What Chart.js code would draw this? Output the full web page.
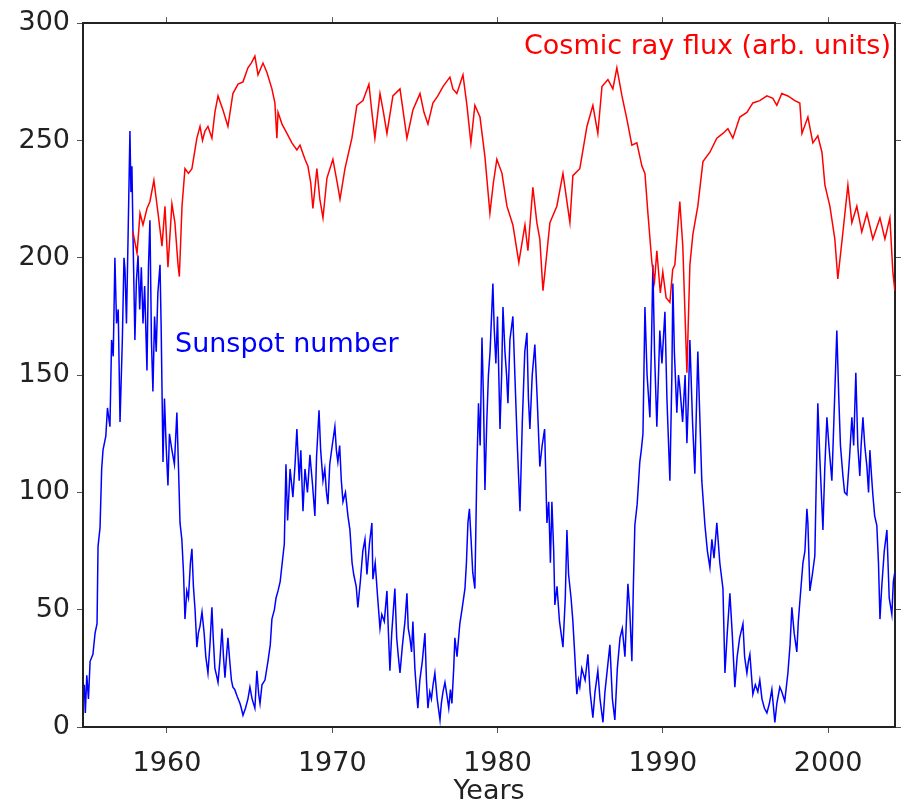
<!DOCTYPE html>
<html>
<head>
<meta charset="utf-8">
<script src="https://cdn.jsdelivr.net/npm/chart.js@4.4.0/dist/chart.umd.min.js"></script>
<style>
  html, body { margin: 0; padding: 0; background: #fff; overflow: hidden; }
  canvas { display: block; }
</style>
</head>
<body>
<canvas id="solarChart" width="903" height="805"></canvas>
<script>
// tick values
const xTickYears = [1960, 1970, 1980, 1990, 2000];
const yTickValues = [0, 50, 100, 150, 200, 250, 300];

// sunspot number
const sunspotYears = [
  1955.00,1955.06,1955.15,1955.25,1955.35,1955.52,1955.65,1955.77,1955.83,1955.95,
  1956.05,1956.13,1956.30,1956.40,1956.55,1956.65,1956.75,1956.85,1956.95,1957.05,
  1957.16,1957.30,1957.40,1957.46,1957.55,1957.65,1957.76,1957.82,1957.88,1957.95,
  1958.06,1958.15,1958.25,1958.35,1958.45,1958.55,1958.65,1958.79,1958.88,1958.97,
  1959.06,1959.15,1959.25,1959.35,1959.45,1959.58,1959.65,1959.76,1959.85,1959.95,
  1960.06,1960.15,1960.30,1960.45,1960.60,1960.70,1960.79,1960.90,1961.00,1961.09,
  1961.20,1961.30,1961.42,1961.51,1961.60,1961.70,1961.81,1961.90,1962.00,1962.12,
  1962.25,1962.35,1962.48,1962.60,1962.72,1962.80,1962.90,1963.00,1963.09,1963.20,
  1963.33,1963.42,1963.51,1963.60,1963.69,1963.80,1963.90,1963.99,1964.10,1964.25,
  1964.42,1964.50,1964.60,1964.75,1964.90,1965.02,1965.15,1965.32,1965.44,1965.55,
  1965.63,1965.75,1965.93,1966.11,1966.25,1966.35,1966.50,1966.60,1966.72,1966.85,
  1967.02,1967.10,1967.20,1967.30,1967.45,1967.62,1967.75,1967.86,1968.00,1968.10,
  1968.23,1968.35,1968.50,1968.65,1968.80,1968.95,1969.05,1969.20,1969.30,1969.44,
  1969.55,1969.65,1969.74,1969.85,1970.00,1970.16,1970.25,1970.34,1970.45,1970.55,
  1970.65,1970.80,1970.95,1971.07,1971.20,1971.30,1971.45,1971.55,1971.70,1971.85,
  1971.98,1972.10,1972.25,1972.40,1972.46,1972.60,1972.75,1972.89,1973.00,1973.15,
  1973.31,1973.40,1973.49,1973.60,1973.79,1973.90,1974.00,1974.10,1974.25,1974.40,
  1974.52,1974.60,1974.70,1974.80,1974.88,1975.00,1975.10,1975.18,1975.30,1975.45,
  1975.61,1975.70,1975.79,1975.90,1976.00,1976.10,1976.21,1976.35,1976.52,1976.60,
  1976.70,1976.82,1976.95,1977.05,1977.15,1977.24,1977.35,1977.42,1977.55,1977.72,
  1977.85,1978.03,1978.12,1978.21,1978.30,1978.40,1978.50,1978.63,1978.75,1978.85,
  1978.95,1979.06,1979.15,1979.24,1979.35,1979.45,1979.55,1979.72,1979.80,1979.90,
  1980.00,1980.15,1980.25,1980.33,1980.45,1980.55,1980.63,1980.75,1980.93,1981.05,
  1981.20,1981.36,1981.50,1981.65,1981.78,1981.87,1981.96,1982.10,1982.26,1982.40,
  1982.56,1982.70,1982.85,1982.99,1983.10,1983.20,1983.29,1983.40,1983.47,1983.60,
  1983.75,1983.96,1984.10,1984.20,1984.30,1984.45,1984.56,1984.68,1984.80,1984.90,
  1984.98,1985.10,1985.30,1985.47,1985.60,1985.77,1985.90,1986.07,1986.20,1986.38,
  1986.50,1986.65,1986.80,1986.95,1987.10,1987.25,1987.41,1987.55,1987.71,1987.89,
  1988.00,1988.13,1988.22,1988.31,1988.45,1988.61,1988.70,1988.80,1988.92,1989.05,
  1989.22,1989.32,1989.40,1989.50,1989.64,1989.74,1989.82,1989.95,1990.13,1990.25,
  1990.43,1990.55,1990.61,1990.70,1990.85,1990.95,1991.03,1991.20,1991.35,1991.46,
  1991.55,1991.64,1991.80,1991.94,1992.05,1992.12,1992.25,1992.36,1992.55,1992.70,
  1992.85,1992.97,1993.10,1993.27,1993.45,1993.64,1993.76,1993.90,1994.06,1994.20,
  1994.36,1994.50,1994.65,1994.85,1994.95,1995.09,1995.18,1995.27,1995.45,1995.60,
  1995.75,1995.87,1996.00,1996.15,1996.30,1996.45,1996.60,1996.78,1996.90,1997.08,
  1997.20,1997.38,1997.57,1997.70,1997.81,1997.95,1998.11,1998.20,1998.31,1998.48,
  1998.60,1998.72,1998.78,1998.90,1999.05,1999.20,1999.30,1999.38,1999.50,1999.69,
  1999.80,1999.93,2000.05,2000.23,2000.35,2000.53,2000.65,2000.75,2000.90,2001.00,
  2001.14,2001.30,2001.44,2001.55,2001.68,2001.80,2001.92,2002.00,2002.11,2002.22,
  2002.35,2002.45,2002.53,2002.62,2002.71,2002.82,2002.95,2003.05,2003.14,2003.25,
  2003.40,2003.56,2003.70,2003.86,2003.95,2004.04
];
const sunspotValues = [
  18,6,22,12,28,31,40,44,77,85,
  110,118,124,136,128,165,158,200,172,178,
  130,165,200,195,172,210,254,228,239,208,
  165,190,201,178,196,172,188,152,196,216,
  165,143,175,160,185,197,170,113,140,120,
  103,125,118,112,134,110,87,80,66,46,
  58,55,70,76,60,50,34,40,43,49,
  40,30,23,35,51,38,25,22,19,28,
  42,30,21,30,38,28,20,17,16,13,
  10,8,5,8,12,17,12,8,24,14,
  10,18,20,28,35,46,50,55,58,62,
  73,78,112,88,110,98,112,127,105,118,
  92,110,100,116,104,90,115,135,118,105,
  110,100,95,112,120,128,118,113,120,105,
  96,100,90,84,70,65,60,51,62,75,
  80,65,78,87,63,70,55,42,48,45,
  58,40,24,40,59,38,30,23,35,45,
  57,42,38,32,45,25,15,8,20,28,
  40,20,8,15,12,18,23,12,3,10,
  15,19,13,8,16,10,25,38,30,44,
  50,59,70,87,93,80,66,59,110,138,
  120,166,140,101,130,150,160,189,170,155,
  175,127,150,179,160,150,138,165,175,150,
  120,92,130,160,168,140,127,150,163,140,
  111,120,127,87,96,70,96,75,52,60,
  45,34,55,84,65,55,45,30,14,20,
  17,25,20,31,15,4,15,24,12,2,
  15,25,35,12,3,25,38,42,30,61,
  50,28,60,86,95,113,118,125,179,150,
  132,165,197,160,128,150,169,155,177,140,
  105,150,189,160,134,150,145,130,150,121,
  140,165,130,108,140,160,130,105,86,75,
  68,80,72,87,70,59,23,40,57,40,
  17,30,38,44,30,23,28,31,14,18,
  15,20,12,8,6,10,16,2,10,17,
  15,11,23,35,51,40,32,45,55,70,
  75,93,87,58,65,73,110,138,115,84,
  110,132,120,105,130,169,140,120,107,100,
  99,115,132,120,151,120,107,120,132,120,
  111,100,118,108,99,90,86,70,46,60,
  75,84,55,48,62,66
];

// cosmic ray flux, arbitrary units
const cosmicYears = [
  1957.94,1958.19,1958.37,1958.55,1958.79,1958.97,1959.21,1959.46,1959.70,1959.88,
  1960.06,1960.30,1960.48,1960.67,1960.75,1960.91,1961.09,1961.30,1961.51,1961.81,
  1962.00,1962.15,1962.30,1962.48,1962.72,1962.90,1963.09,1963.39,1963.69,1963.99,
  1964.30,1964.60,1964.90,1965.10,1965.32,1965.51,1965.81,1966.05,1966.35,1966.53,
  1966.65,1966.72,1966.96,1967.26,1967.56,1967.86,1968.05,1968.35,1968.53,1968.70,
  1968.83,1969.07,1969.25,1969.44,1969.68,1970.04,1970.30,1970.47,1970.77,1971.19,
  1971.49,1971.86,1972.22,1972.40,1972.58,1972.89,1973.10,1973.31,1973.67,1974.10,
  1974.30,1974.52,1974.88,1975.31,1975.55,1975.79,1976.09,1976.39,1976.70,1977.12,
  1977.30,1977.54,1977.91,1978.15,1978.39,1978.63,1978.94,1979.24,1979.54,1979.75,
  1979.96,1980.27,1980.57,1980.93,1981.29,1981.66,1981.84,1982.14,1982.38,1982.56,
  1982.75,1982.87,1983.17,1983.59,1983.96,1984.38,1984.56,1984.98,1985.41,1985.77,
  1986.07,1986.32,1986.68,1986.98,1987.22,1987.53,1987.83,1988.13,1988.43,1988.74,
  1988.92,1989.10,1989.34,1989.50,1989.64,1989.85,1990.00,1990.20,1990.43,1990.60,
  1990.73,1991.03,1991.21,1991.46,1991.64,1991.82,1992.12,1992.43,1992.85,1993.27,
  1993.64,1993.94,1994.24,1994.66,1995.09,1995.45,1995.87,1996.30,1996.66,1996.90,
  1997.20,1997.57,1997.99,1998.29,1998.42,1998.78,1999.08,1999.38,1999.63,1999.81,
  2000.11,2000.41,2000.59,2000.90,2001.20,2001.44,2001.74,2002.04,2002.35,2002.71,
  2003.14,2003.44,2003.74,2003.92,2004.04
];
const cosmicValues = [
  211,202,219,214,221,224,233,219,205,222,
  196,223,215,197,192,222,238,236,238,251,
  256,250,254,256,251,262,269,263,256,270,
  274,275,281,283,286,278,283,279,272,266,
  251,262,257,253,249,246,248,242,239,232,
  221,238,225,217,234,242,232,225,238,251,
  265,267,274,262,251,270,262,253,269,272,
  262,251,263,270,262,257,266,269,273,277,
  272,270,278,265,249,265,260,243,219,232,
  242,236,222,214,198,214,203,230,215,208,
  186,194,215,222,236,215,235,238,256,265,
  253,273,276,272,281,269,259,248,249,239,
  236,219,198,190,203,185,194,183,181,195,
  197,224,205,151,197,210,222,241,245,251,
  253,255,251,260,262,266,267,269,268,265,
  270,269,267,266,253,260,249,252,245,231,
  222,208,191,211,231,215,222,211,219,208,
  217,208,217,194,186
];

const cosmicLabel = 'Cosmic ray flux (arb. units)';
const sunspotLabel = 'Sunspot number';

const toPoints = (xs, ys) => xs.map((x, i) => ({ x: x, y: ys[i] }));

const FONT = { family: "'DejaVu Sans', sans-serif", size: 27 };
const INK = '#222';
const X_MIN = 1954.92, X_MAX = 2004.05;

const setTicks = values => scale => {
  scale.ticks = values.map(v => ({ value: v }));
};

const seriesLabels = {
  id: 'seriesLabels',
  afterDatasetsDraw(chart) {
    const ctx = chart.ctx;
    ctx.save();
    ctx.font = "27px 'DejaVu Sans', sans-serif";
    ctx.textBaseline = 'alphabetic';
    ctx.textAlign = 'left';
    ctx.fillStyle = '#ff0000';
    ctx.fillText(cosmicLabel, 524, 54);
    ctx.fillStyle = '#0000ff';
    ctx.fillText(sunspotLabel, 175, 352);
    ctx.restore();
  }
};

const config = {
  type: 'line',
  data: {
    datasets: [
      {
        label: cosmicLabel,
        data: toPoints(cosmicYears, cosmicValues),
        borderColor: '#ff0000',
        borderWidth: 1.5,
        pointRadius: 0,
        tension: 0,
        fill: false
      },
      {
        label: sunspotLabel,
        data: toPoints(sunspotYears, sunspotValues),
        borderColor: '#0000ff',
        borderWidth: 1.5,
        pointRadius: 0,
        tension: 0,
        fill: false
      }
    ]
  },
  options: {
    responsive: false,
    animation: false,
    layout: { padding: 0 },
    plugins: {
      legend: { display: false },
      tooltip: { enabled: false }
    },
    scales: {
      x: {
        type: 'linear',
        position: 'bottom',
        min: X_MIN,
        max: X_MAX,
        border: { display: true, color: INK, width: 2 },
        grid: { drawOnChartArea: false, drawTicks: true, tickLength: 6, color: '#555' },
        ticks: {
          font: FONT,
          color: INK,
          padding: 15,
          maxRotation: 0,
          callback: v => String(v)
        },
        title: {
          display: true,
          text: 'Years',
          font: { family: FONT.family, size: 27, lineHeight: 1.0 },
          color: INK,
          padding: { top: 0, bottom: 0 }
        },
        afterBuildTicks: setTicks(xTickYears),
        afterFit: s => { s.height = 78; }
      },
      xTop: {
        type: 'linear',
        position: 'top',
        min: X_MIN,
        max: X_MAX,
        border: { display: true, color: INK, width: 2 },
        grid: { drawOnChartArea: false, drawTicks: true, tickLength: 6, color: '#555' },
        ticks: { display: false },
        afterBuildTicks: setTicks(xTickYears),
        afterFit: s => { s.height = 16; }
      },
      y: {
        type: 'linear',
        position: 'left',
        min: 0,
        max: 300,
        border: { display: true, color: INK, width: 2 },
        grid: { drawOnChartArea: false, drawTicks: true, tickLength: 6, color: '#555' },
        ticks: {
          font: FONT,
          color: INK,
          padding: 7,
          callback: v => String(v)
        },
        afterBuildTicks: setTicks(yTickValues),
        afterFit: s => { s.width = 83; }
      },
      yRight: {
        type: 'linear',
        position: 'right',
        min: 0,
        max: 300,
        border: { display: true, color: INK, width: 2 },
        grid: { drawOnChartArea: false, drawTicks: true, tickLength: 6, color: '#555' },
        ticks: { display: false },
        afterBuildTicks: setTicks(yTickValues),
        afterFit: s => { s.width = 8; }
      }
    }
  },
  plugins: [seriesLabels]
};

new Chart(document.getElementById('solarChart').getContext('2d'), config);
</script>
</body>
</html>
